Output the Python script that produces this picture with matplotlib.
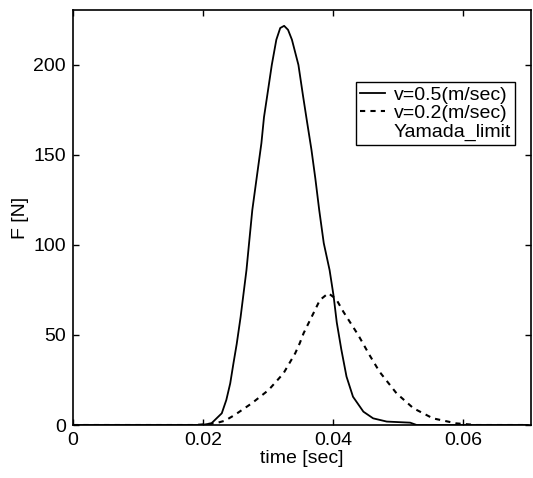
import matplotlib
matplotlib.use('Agg')
import matplotlib.pyplot as plt

# ---------- data ---------- #

t_fast = [0, 0.005, 0.010, 0.015, 0.0198, 0.0213, 0.0229, 0.0236, 0.0242,
          0.0247, 0.0252, 0.0258, 0.0267, 0.0270, 0.0276, 0.0283, 0.0290,
          0.0294, 0.0299, 0.0306, 0.0313, 0.0319, 0.0325, 0.0331, 0.0337,
          0.0347, 0.0354, 0.0360, 0.0367, 0.0373, 0.0379, 0.0386, 0.0395,
          0.0401, 0.0406, 0.0413, 0.0421, 0.0431, 0.0447, 0.0462, 0.0483,
          0.0519, 0.0529, 0.0600, 0.0700]
f_fast = [0, 0, 0, 0, 0, 0.9, 6.5, 13.9, 23.1, 34.3, 45, 60, 86, 97.2,
          119.4, 138, 156.5, 171, 183, 200, 214, 220.5, 221.7, 219.5, 214,
          200, 183, 169, 153, 137, 119.4, 101, 86, 72, 57, 42, 26.9, 15.7,
          7.4, 3.7, 1.9, 1.3, 0, 0, 0]

t_slow = [0, 0.0188, 0.0219, 0.0234, 0.0249, 0.0275, 0.0301, 0.0324, 0.0342,
          0.0349, 0.0355, 0.0370, 0.0380, 0.0393, 0.0405, 0.0416, 0.0439,
          0.0457, 0.0472, 0.0498, 0.0524, 0.0554, 0.0590, 0.0621, 0.0700]
f_slow = [0, 0, 0.9, 2.4, 5.6, 12, 19.4, 28.7, 39.8, 45.4, 51, 62, 69.4,
          73.2, 70, 63, 50, 38.5, 29.5, 17.6, 9.3, 3.7, 0.9, 0, 0]

labels = ['v=0.5(m/sec)', 'v=0.2(m/sec)', 'Yamada_limit']
xticks = [0, 0.02, 0.04, 0.06]
xticklabels = ['0', '0.02', '0.04', '0.06']
yticks = [0, 50, 100, 150, 200]

# ---------- figure ---------- #

plt.rcParams['font.family'] = ['Liberation Sans', 'DejaVu Sans']
plt.rcParams['font.size'] = 14

W, H = 533, 478
fig = plt.figure(figsize=(W / 100, H / 100), dpi=100)
ax = fig.add_axes([73 / W, 53 / H, (531 - 73) / W, (425 - 10) / H])

ax.plot(t_fast, f_fast, color='black', lw=1.3, label=labels[0])
ax.plot(t_slow, f_slow, color='black', lw=1.5, linestyle=(0, (2.5, 2.5)),
        label=labels[1])
ax.plot([], [], color='none', label=labels[2])

ax.set_xlim(0, 0.0705)
ax.set_ylim(0, 230.5)
ax.set_xticks(xticks)
ax.set_xticklabels(xticklabels)
ax.set_yticks(yticks)
ax.tick_params(direction='in', length=4, width=1, top=True, right=True,
               pad=5)
for s in ax.spines.values():
    s.set_linewidth(1.2)

ax.set_xlabel('time [sec]', labelpad=1)
ax.set_ylabel('F [N]', labelpad=3)

leg = ax.legend(loc='upper right', bbox_to_anchor=(515 / W, 1 - 82 / H),
                bbox_transform=fig.transFigure, borderaxespad=0,
                fancybox=False, framealpha=1, edgecolor='black',
                handlelength=1.3, handletextpad=0.45, borderpad=0.2,
                labelspacing=0.05)
leg.get_frame().set_linewidth(1.0)

fig.savefig('out.png', dpi=100)
